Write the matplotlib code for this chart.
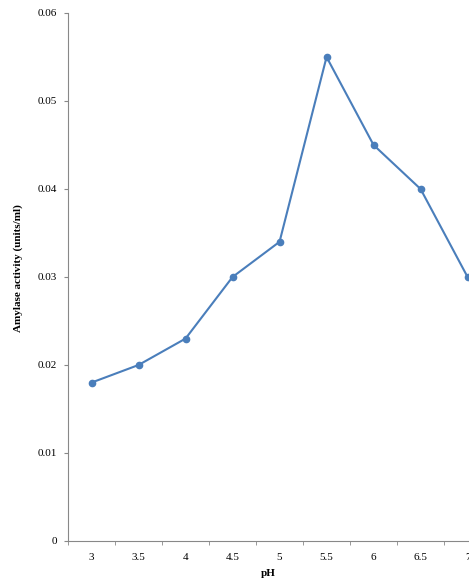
import matplotlib.pyplot as plt

# pH values and amylase activity
ph_labels = ['3', '3.5', '4', '4.5', '5', '5.5', '6', '6.5', '7']
activity = [0.018, 0.020, 0.023, 0.030, 0.034, 0.055, 0.045, 0.040, 0.030]

plt.rcParams['font.family'] = ['Liberation Serif', 'DejaVu Serif']

fig = plt.figure(figsize=(4.69, 5.83), dpi=100)
ax = fig.add_axes([68 / 469, (583 - 541) / 583, 1 - 68 / 469, (541 - 13) / 583])

idx = list(range(len(ph_labels)))
ax.plot(idx, activity, color='#4A7EBB', linewidth=1.5, marker='o',
        markersize=4.5, markerfacecolor='#4A7EBB', markeredgecolor='#4A7EBB',
        clip_on=False)

ax.set_ylim(0, 0.06)
ax.set_yticks([0, 0.01, 0.02, 0.03, 0.04, 0.05, 0.06])
ax.set_yticklabels(['0', '0.01', '0.02', '0.03', '0.04', '0.05', '0.06'])
ax.set_xlim(-0.5, 8.03)
ax.set_xticks(idx)
ax.set_xticklabels(ph_labels)
ax.set_xticks([i + 0.5 for i in range(-1, 8)], minor=True)
ax.tick_params(axis='x', which='major', length=0, pad=9, labelsize=8)
ax.tick_params(axis='x', which='minor', length=3, color='#888888')
ax.tick_params(axis='y', length=3, color='#888888', labelsize=8, pad=5)

for s in ['top', 'right']:
    ax.spines[s].set_visible(False)
for s in ['left', 'bottom']:
    ax.spines[s].set_color('#888888')
    ax.spines[s].set_linewidth(0.8)

ax.set_xlabel('pH', fontsize=8, fontweight='bold', labelpad=5)
fig.text(18 / 469, 1 - 268 / 583, 'Amylase activity (units/ml)', rotation=90,
         ha='center', va='center', fontsize=8, fontweight='bold')

fig.savefig('out.png', dpi=100)
